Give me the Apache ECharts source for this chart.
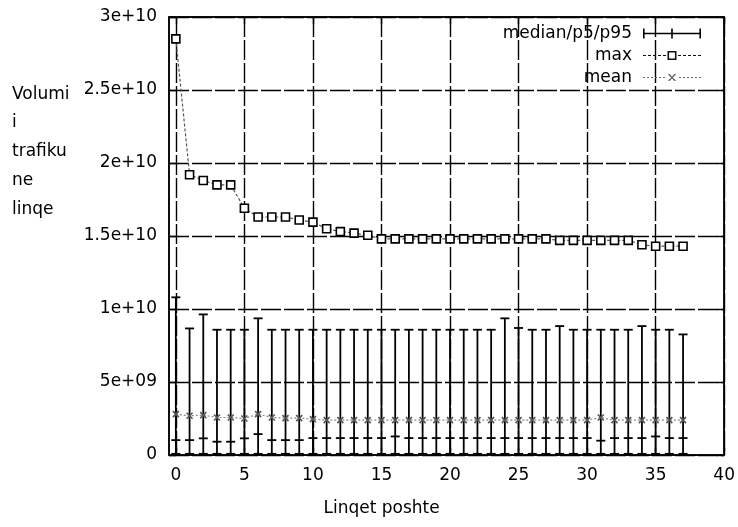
<!DOCTYPE html>
<html><head><meta charset="utf-8">
<script src="https://cdn.jsdelivr.net/npm/echarts@6/dist/echarts.min.js"></script>
<style>html,body{margin:0;padding:0;background:#fff}#c{width:738px;height:527px}</style>
</head><body><div id="c"></div>
<script>
// ---- data ----
const xs = [0,1,2,3,4,5,6,7,8,9,10,11,12,13,14,15,16,17,18,19,20,21,22,23,24,25,26,27,28,29,30,31,32,33,34,35,36,37];
const maxVals = [28.5e9,19.2e9,18.8e9,18.5e9,18.5e9,16.9e9,16.3e9,16.3e9,16.3e9,16.1e9,15.95e9,15.5e9,15.3e9,15.2e9,15.05e9,14.8e9,14.8e9,14.8e9,14.8e9,14.8e9,14.8e9,14.8e9,14.8e9,14.8e9,14.8e9,14.8e9,14.8e9,14.8e9,14.7e9,14.7e9,14.7e9,14.7e9,14.7e9,14.7e9,14.4e9,14.3e9,14.3e9,14.3e9];
const p95Vals = [10.8e9,8.67e9,9.63e9,8.58e9,8.58e9,8.58e9,9.36e9,8.58e9,8.58e9,8.58e9,8.58e9,8.58e9,8.58e9,8.58e9,8.58e9,8.58e9,8.58e9,8.58e9,8.58e9,8.58e9,8.58e9,8.58e9,8.58e9,8.58e9,9.36e9,8.7e9,8.58e9,8.58e9,8.83e9,8.58e9,8.58e9,8.58e9,8.58e9,8.58e9,8.83e9,8.58e9,8.58e9,8.26e9];
const medianVals = [1.02e9,1.02e9,1.14e9,0.91e9,0.91e9,1.14e9,1.43e9,1.02e9,1.02e9,1.02e9,1.16e9,1.16e9,1.16e9,1.16e9,1.16e9,1.16e9,1.27e9,1.16e9,1.16e9,1.16e9,1.16e9,1.16e9,1.16e9,1.16e9,1.16e9,1.16e9,1.16e9,1.16e9,1.16e9,1.16e9,1.16e9,0.98e9,1.16e9,1.16e9,1.16e9,1.27e9,1.16e9,1.16e9];
const p5Vals = [0.08e9,0.08e9,0.08e9,0.08e9,0.08e9,0.08e9,0.08e9,0.08e9,0.08e9,0.08e9,0.08e9,0.08e9,0.08e9,0.08e9,0.08e9,0.08e9,0.08e9,0.08e9,0.08e9,0.08e9,0.08e9,0.08e9,0.08e9,0.08e9,0.08e9,0.08e9,0.08e9,0.08e9,0.08e9,0.08e9,0.08e9,0.08e9,0.08e9,0.08e9,0.08e9,0.08e9,0.08e9,0.08e9];
const meanVals = [2.8e9,2.69e9,2.73e9,2.57e9,2.57e9,2.5e9,2.8e9,2.57e9,2.53e9,2.53e9,2.46e9,2.39e9,2.39e9,2.39e9,2.39e9,2.39e9,2.39e9,2.39e9,2.39e9,2.39e9,2.39e9,2.39e9,2.39e9,2.39e9,2.39e9,2.39e9,2.39e9,2.39e9,2.39e9,2.39e9,2.39e9,2.57e9,2.39e9,2.39e9,2.39e9,2.39e9,2.39e9,2.39e9];
const xTicks = [0,5,10,15,20,25,30,35,40];
const yTicks = [0,5e9,10e9,15e9,20e9,25e9,30e9];
const yTickLabels = ['0','5e+09','1e+10','1.5e+10','2e+10','2.5e+10','3e+10'];
const seriesNames = ['median/p5/p95','max','mean'];
const xAxisTitle = 'Linqet poshte';
const yAxisTitle = 'Volumi\ni\ntrafiku\nne\nlinqe';

// ---- chart ----
const FONT = 'DejaVu Sans';
const FS = 17;
const chart = echarts.init(document.getElementById('c'), null, {renderer:'canvas'});

const errData = xs.map((x,i)=>[x, p5Vals[i], medianVals[i], p95Vals[i]]);

const tickStyle = {show:true, inside:true, length:7, lineStyle:{color:'#000', width:1.4}};
const gridLine = {show:true, lineStyle:{color:'#000', width:1.4, type:[20,3]}};
const errIcon = 'path://M0,0H1.6V10H0Z M28.2,0H29.8V10H28.2Z M56.4,0H58V10H56.4Z M0,4.3H58V5.7H0Z';
const maxIcon = 'path://M0,4.4H3V5.6H0Z M5,4.4H8V5.6H5Z M10,4.4H13V5.6H10Z M15,4.4H18V5.6H15Z M20,4.4H23V5.6H20Z M24.5,0.5H33.5V9.5H24.5Z M26.1,2.1V7.9H31.9V2.1Z M35,4.4H38V5.6H35Z M40,4.4H43V5.6H40Z M45,4.4H48V5.6H45Z M50,4.4H53V5.6H50Z M55,4.4H58V5.6H55Z';
const meanIcon = 'path://M0,4.4H2V5.6H0Z M4,4.4H6V5.6H4Z M8,4.4H10V5.6H8Z M12,4.4H14V5.6H12Z M16,4.4H18V5.6H16Z M20,4.4H22V5.6H20Z M25.4,1.6L26.6,1.6L29,4.1L31.4,1.6L32.6,1.6L32.6,2.4L29.8,5L32.6,7.6L32.6,8.4L31.4,8.4L29,5.9L26.6,8.4L25.4,8.4L25.4,7.6L28.2,5L25.4,2.4Z M36,4.4H38V5.6H36Z M40,4.4H42V5.6H40Z M44,4.4H46V5.6H44Z M48,4.4H50V5.6H48Z M52,4.4H54V5.6H52Z M56,4.4H58V5.6H56Z M0,0.2H0.01V0.21H0Z M0,9.8H0.01V9.81H0Z';

chart.setOption({
  animation:false,
  backgroundColor:'#fff',
  textStyle:{fontFamily:FONT},
  grid:{left:169, right:11, top:17, bottom:72, show:true, borderColor:'#000', borderWidth:1.5, backgroundColor:'transparent'},
  legend:{
    orient:'vertical', right:37, top:23, align:'right', padding:0, itemGap:1,
    itemWidth:58, itemHeight:10,
    textStyle:{fontFamily:FONT, fontSize:FS, color:'#000', lineHeight:21, padding:[0,6,0,0]},
    selectedMode:false,
    data:[
      {name:seriesNames[0], icon:errIcon, itemStyle:{color:'#000', borderWidth:0}},
      {name:seriesNames[1], icon:maxIcon, itemStyle:{color:'#111', borderWidth:0}},
      {name:seriesNames[2], icon:meanIcon, itemStyle:{color:'#666', borderWidth:0}}
    ]
  },
  xAxis:[{
    type:'value', min:-0.5, max:40, position:'bottom',
    axisLine:{show:true, onZero:false, lineStyle:{color:'#000', width:1.5}},
    axisTick:Object.assign({customValues:xTicks}, tickStyle),
    axisLabel:{customValues:xTicks, color:'#000', fontFamily:FONT, fontSize:FS, margin:12},
    splitLine:gridLine,
    name:xAxisTitle, nameLocation:'middle', nameGap:45,
    nameTextStyle:{fontFamily:FONT, fontSize:FS, color:'#000', padding:[0,130,0,0]}
  },{
    type:'value', min:-0.5, max:40, position:'top',
    axisLine:{show:true, onZero:false, lineStyle:{color:'#000', width:1.5}},
    axisTick:Object.assign({customValues:xTicks}, tickStyle),
    axisLabel:{show:false}, splitLine:{show:false}
  }],
  yAxis:[{
    type:'value', min:0, max:30e9, interval:5e9, position:'left',
    axisLine:{show:true, onZero:false, lineStyle:{color:'#000', width:1.5}},
    axisTick:tickStyle,
    axisLabel:{color:'#000', fontFamily:FONT, fontSize:FS, margin:12,
      formatter:v=>{const k=yTicks.indexOf(v); return k>=0?yTickLabels[k]:'';}},
    splitLine:gridLine
  },{
    type:'value', min:0, max:30e9, interval:5e9, position:'right',
    axisLine:{show:true, onZero:false, lineStyle:{color:'#000', width:1.5}},
    axisTick:tickStyle, axisLabel:{show:false}, splitLine:{show:false}
  }],
  graphic:[{
    type:'text', left:12, top:80,
    style:{text:yAxisTitle, font:FS+'px "'+FONT+'"', fill:'#000', lineHeight:28.7, align:'left'}
  }],
  series:[{
    type:'custom', name:seriesNames[0], xAxisIndex:0, yAxisIndex:0,
    data:errData, encode:{x:0, y:[1,2,3]},
    itemStyle:{color:'#000'}, z:3,
    renderItem:function(params, api){
      const x = api.value(0);
      const lo = api.coord([x, api.value(1)]);
      const md = api.coord([x, api.value(2)]);
      const hi = api.coord([x, api.value(3)]);
      const w = 4.5;
      const st = {stroke:'#000', lineWidth:1.8, fill:null};
      return {type:'group', children:[
        {type:'line', shape:{x1:lo[0],y1:lo[1],x2:hi[0],y2:hi[1]}, style:st},
        {type:'line', shape:{x1:hi[0]-w,y1:hi[1],x2:hi[0]+w,y2:hi[1]}, style:st},
        {type:'line', shape:{x1:lo[0]-w,y1:lo[1],x2:lo[0]+w,y2:lo[1]}, style:st},
        {type:'line', shape:{x1:md[0]-w,y1:md[1],x2:md[0]+w,y2:md[1]}, style:st}
      ]};
    }
  },{
    type:'line', name:seriesNames[1], xAxisIndex:0, yAxisIndex:0,
    data:xs.map((x,i)=>[x, maxVals[i]]),
    symbol:'rect', symbolSize:8, showAllSymbol:true, z:4,
    itemStyle:{color:'#fff', borderColor:'#000', borderWidth:1.6},
    lineStyle:{color:'#555', width:1.2, type:[3,2]}
  },{
    type:'line', name:seriesNames[2], xAxisIndex:0, yAxisIndex:0,
    data:xs.map((x,i)=>[x, meanVals[i]]),
    symbol:'path://M0,0L10,10M10,0L0,10', symbolSize:6, showAllSymbol:true, z:5,
    itemStyle:{color:'#555', borderColor:'#555', borderWidth:1.6},
    lineStyle:{color:'#888', width:1.2, type:[2,2]}
  }]
});
</script></body></html>
